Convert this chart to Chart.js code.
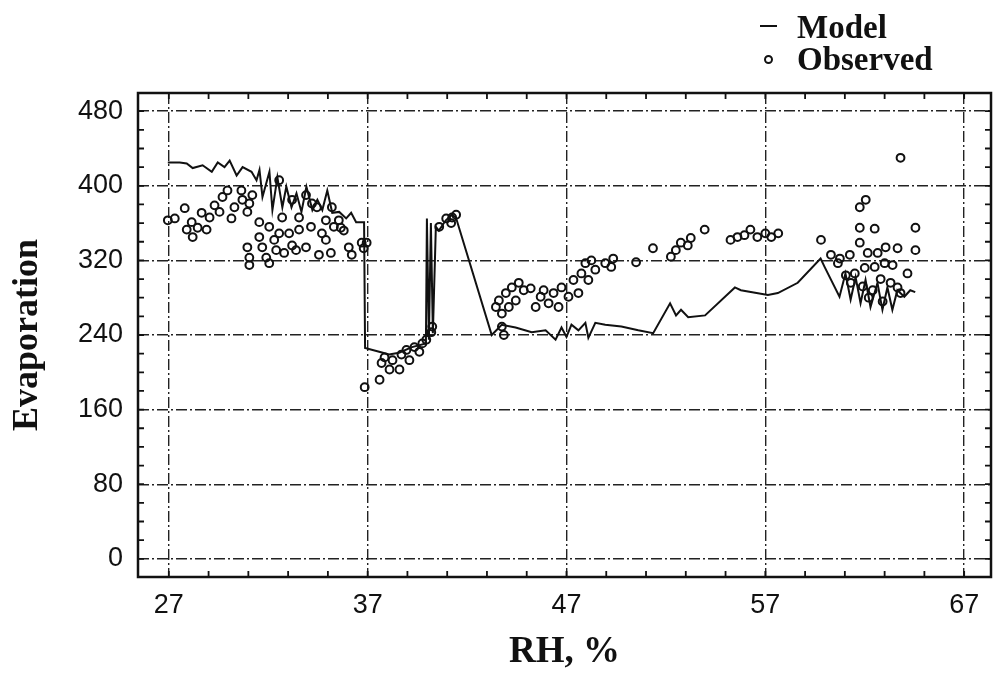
<!DOCTYPE html>
<html>
<head>
<meta charset="utf-8">
<script src="https://cdn.jsdelivr.net/npm/chart.js@4/dist/chart.umd.min.js"></script>
<style>
  body { margin: 0; background: #fff; }
  #wrap { position: relative; width: 997px; height: 677px; }
  #chart { position: absolute; left: 0; top: 0; }
  .leg { position: absolute; font-family: "Liberation Serif", serif; font-weight: bold; font-size: 33px; color: #111; line-height: 1; }
  .legLine { position: absolute; height: 2px; background: #111; }
  .legDot { position: absolute; width: 5px; height: 5px; border: 2px solid #111; border-radius: 50%; }
</style>
</head>
<body>
<div id="wrap">
  <canvas id="chart" width="997" height="677"></canvas>
  <div class="legLine" style="left:760px; top:25px; width:17px;"></div>
  <div class="leg" style="left:797px; top:11px;">Model</div>
  <div class="legDot" style="left:764px; top:55px;"></div>
  <div class="leg" style="left:797px; top:43px;">Observed</div>
</div>
<script>
// axis ticks
const xTickLabels = [27, 37, 47, 57, 67];
const yTickLabels = [0, 80, 160, 240, 320, 400, 480];

// model curve (RH %, evaporation)
const modelRH = [26.95, 27.55, 27.9, 28.2, 28.7, 29.16, 29.46, 29.8, 30.06, 30.41, 30.71, 31.16, 31.41, 31.56, 31.71,
  32.06, 32.21, 32.46, 32.71, 32.91, 33.17, 33.42, 33.67, 33.92, 34.22, 34.47, 34.72, 34.97, 35.22, 35.57, 35.92,
  36.17, 36.42, 36.82, 36.87, 37.58, 38.08, 38.58, 39.23, 39.93, 39.98, 40.08, 40.18, 40.28, 40.43, 40.58, 40.93,
  41.24, 41.44, 43.24, 43.74, 44.44, 45.25, 45.95, 46.45, 46.75, 47.0, 47.25, 47.6, 47.95, 48.1, 48.45, 48.95,
  49.76, 50.61, 51.36, 52.21, 52.51, 52.76, 53.12, 53.97, 55.47, 55.77, 57.13, 57.63, 58.63, 59.78, 59.98, 60.73,
  61.03, 61.29, 61.54, 61.79, 62.04, 62.29, 62.64, 62.89, 63.14, 63.39, 63.64, 63.99, 64.29, 64.54];
const modelEvap = [425, 425, 424, 419, 422, 415, 425, 420, 427, 411, 420, 415, 406, 417, 388,
  415, 374, 409, 377, 399, 377, 392, 372, 399, 374, 385, 374, 395, 371, 372, 365,
  371, 361, 361, 226, 222, 219, 221, 227, 231, 365, 235, 360, 242, 356, 352, 363,
  369, 366, 240, 251, 248, 243, 245, 235, 248, 238, 251, 245, 253, 237, 253, 251,
  249, 245, 242, 274, 261, 267, 259, 261, 291, 288, 283, 285, 296, 322, 313, 281,
  306, 278, 302, 274, 299, 270, 296, 267, 291, 267, 288, 281, 288, 286];

// observed points (RH %, evaporation)
const obsRH = [26.95, 27.3, 27.8, 27.9, 28.15, 28.2, 28.45, 28.65, 28.9, 29.05, 29.3, 29.55, 29.7, 29.95, 30.15,
  30.3, 30.65, 30.7, 30.95, 31.05, 31.2,
  30.95, 31.05, 31.05, 31.55, 31.7, 31.9, 32.05, 32.3, 32.4, 32.55, 32.8, 33.05, 33.2, 33.4, 33.55, 33.9, 34.15,
  34.55, 34.7, 34.9, 35.15, 35.3, 35.65, 35.8, 36.05, 36.2, 36.7, 36.8,
  31.55, 32.05, 32.55, 32.7, 33.2, 33.55, 33.9, 34.2, 34.45, 34.9, 35.2, 35.55, 36.95,
  36.85, 37.6, 37.7, 37.85, 38.1, 38.25, 38.6, 38.7, 38.95, 39.1, 39.35, 39.6, 39.75, 39.95, 40.2, 40.25,
  40.6, 40.95, 41.2, 41.25, 41.45,
  43.45, 43.6, 43.75, 43.95, 44.1, 44.25, 44.45, 44.6, 44.85, 45.2, 43.75, 43.85,
  45.45, 45.7, 45.85, 46.1, 46.35, 46.6, 46.75, 47.1, 47.35, 47.6, 47.75, 47.95, 48.1, 48.25, 48.45, 48.95,
  49.25, 49.35, 50.5, 51.35, 52.25, 52.5, 52.75, 53.1, 53.25, 53.95, 55.25, 55.6, 55.95, 56.25, 56.6, 57.0,
  57.3, 57.65,
  59.8, 61.75, 62.05, 63.8, 61.75, 62.5, 64.55, 64.55, 60.3, 60.75, 61.25, 61.75, 62.15, 62.65, 63.05, 63.65,
  63.4, 64.15, 61.5, 62.0, 62.5, 63.0, 61.05, 60.65, 63.65,
  61.3, 61.9, 62.4, 62.8, 63.3, 63.8, 62.2, 62.9];
const obsEvap = [363, 365, 376, 353, 361, 345, 355, 371, 353, 366, 379, 372, 388, 395, 365,
  377, 395, 385, 372, 381, 390,
  334, 323, 315, 345, 334, 323, 317, 342, 331, 349, 328, 349, 336, 331, 353, 334, 356,
  326, 349, 342, 328, 356, 355, 352, 334, 326, 339, 333,
  361, 356, 406, 366, 385, 366, 390, 381, 377, 363, 377, 363, 339,
  184, 192, 210, 216, 203, 213, 203, 219, 224, 213, 227, 222, 231, 235, 243, 249,
  356, 365, 360, 366, 369,
  270, 277, 263, 285, 270, 291, 277, 296, 288, 290, 249, 240,
  270, 281, 288, 274, 285, 270, 291, 281, 299, 285, 306, 317, 299, 320, 310, 317,
  313, 322, 318, 333, 324, 331, 339, 336, 344, 353, 342, 345, 347, 353, 345, 349,
  345, 349,
  342, 377, 385, 430, 355, 354, 355, 331, 326, 322, 326, 339, 328, 328, 334, 333,
  315, 306, 306, 312, 313, 317, 304, 317, 291,
  296, 292, 288, 300, 296, 285, 280, 276];

const modelData = modelRH.map((x, i) => ({ x: x, y: modelEvap[i] }));
const obsData = obsRH.map((x, i) => ({ x: x, y: obsEvap[i] }));

const INK = '#111';

// frame around the plot plus the small inward ticks
const frameTicks = {
  id: 'frameTicks',
  afterDraw(chart) {
    const ctx = chart.ctx;
    const a = chart.chartArea;
    const xs = chart.scales.x;
    const ys = chart.scales.y;
    ctx.save();
    ctx.strokeStyle = INK;
    ctx.lineWidth = 1.8;
    ctx.beginPath();
    for (let v = 27; v <= 67; v += 2) {
      const px = xs.getPixelForValue(v);
      ctx.moveTo(px, a.bottom); ctx.lineTo(px, a.bottom - 6);
      ctx.moveTo(px, a.top); ctx.lineTo(px, a.top + 6);
    }
    for (let v = 0; v <= 480; v += 20) {
      const py = ys.getPixelForValue(v);
      ctx.moveTo(a.left, py); ctx.lineTo(a.left + 6, py);
      ctx.moveTo(a.right, py); ctx.lineTo(a.right - 6, py);
    }
    ctx.stroke();
    ctx.lineWidth = 2.5;
    ctx.strokeRect(a.left, a.top, a.right - a.left, a.bottom - a.top);
    ctx.restore();
  }
};

new Chart(document.getElementById('chart'), {
  type: 'scatter',
  data: {
    datasets: [
      {
        label: 'Model',
        data: modelData,
        showLine: true,
        borderColor: INK,
        borderWidth: 2,
        pointRadius: 0,
        tension: 0
      },
      {
        label: 'Observed',
        data: obsData,
        pointStyle: 'circle',
        pointRadius: 3.9,
        pointBorderWidth: 2,
        borderColor: INK,
        backgroundColor: 'rgba(255,255,255,0)'
      }
    ]
  },
  options: {
    responsive: false,
    animation: false,
    layout: { padding: { top: 93, right: 1, left: 0, bottom: 0 } },
    plugins: { legend: { display: false }, tooltip: { enabled: false } },
    scales: {
      x: {
        type: 'linear',
        min: 25.45,
        max: 68.35,
        afterBuildTicks: s => { s.ticks = xTickLabels.map(v => ({ value: v })); },
        afterFit: s => { s.height = 100; },
        ticks: {
          color: INK,
          padding: 12,
          font: { family: 'Liberation Sans', size: 27 },
          callback: v => String(v)
        },
        grid: { color: '#222', lineWidth: 1.4, drawTicks: false },
        border: { display: false, dash: [11, 3, 2, 3] },
        title: {
          display: true,
          text: 'RH, %',
          color: INK,
          padding: { top: 0, bottom: 2 },
          font: { family: 'Liberation Serif', weight: 'bold', size: 37 }
        }
      },
      y: {
        type: 'linear',
        min: -19.5,
        max: 499.5,
        afterBuildTicks: s => { s.ticks = yTickLabels.map(v => ({ value: v })); },
        afterFit: s => { s.width = 138; },
        ticks: {
          color: INK,
          padding: 15,
          font: { family: 'Liberation Sans', size: 27 },
          callback: v => String(v)
        },
        grid: { color: '#222', lineWidth: 1.4, drawTicks: false },
        border: { display: false, dash: [11, 3, 2, 3] },
        title: {
          display: true,
          text: 'Evaporation',
          color: INK,
          padding: { top: 6, bottom: 0 },
          font: { family: 'Liberation Serif', weight: 'bold', size: 36 }
        }
      }
    }
  },
  plugins: [frameTicks]
});
</script>
</body>
</html>
